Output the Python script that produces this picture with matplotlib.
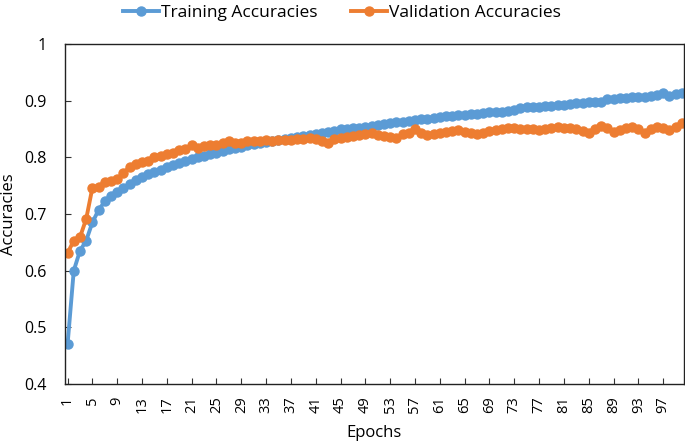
import matplotlib.pyplot as plt

# Epoch numbers and accuracies
epochs = list(range(1, 101))

train_acc = [0.470, 0.600, 0.635, 0.653, 0.685, 0.707, 0.722, 0.732, 0.739, 0.745,
             0.752, 0.760, 0.765, 0.770, 0.774, 0.778, 0.782, 0.786, 0.790, 0.793,
             0.797, 0.800, 0.803, 0.806, 0.808, 0.811, 0.814, 0.816, 0.818, 0.821,
             0.823, 0.825, 0.827, 0.829, 0.830, 0.832, 0.834, 0.836, 0.838, 0.840,
             0.841, 0.843, 0.845, 0.846, 0.849, 0.850, 0.851, 0.852, 0.854, 0.855,
             0.857, 0.859, 0.860, 0.862, 0.863, 0.864, 0.866, 0.867, 0.868, 0.869,
             0.871, 0.872, 0.873, 0.874, 0.875, 0.876, 0.877, 0.878, 0.879, 0.879,
             0.880, 0.881, 0.884, 0.887, 0.888, 0.889, 0.889, 0.890, 0.891, 0.892,
             0.893, 0.894, 0.895, 0.896, 0.897, 0.897, 0.898, 0.902, 0.903, 0.904,
             0.905, 0.906, 0.907, 0.907, 0.908, 0.909, 0.913, 0.908, 0.911, 0.913]

val_acc = [0.631, 0.653, 0.659, 0.691, 0.746, 0.748, 0.757, 0.759, 0.761, 0.772,
           0.783, 0.789, 0.792, 0.794, 0.801, 0.803, 0.806, 0.808, 0.812, 0.815,
           0.821, 0.816, 0.819, 0.821, 0.822, 0.826, 0.829, 0.825, 0.826, 0.828,
           0.829, 0.829, 0.830, 0.829, 0.831, 0.830, 0.831, 0.832, 0.833, 0.834,
           0.833, 0.829, 0.826, 0.833, 0.834, 0.835, 0.838, 0.839, 0.841, 0.842,
           0.839, 0.838, 0.836, 0.834, 0.841, 0.843, 0.850, 0.843, 0.839, 0.841,
           0.842, 0.844, 0.846, 0.848, 0.845, 0.843, 0.841, 0.843, 0.846, 0.848,
           0.849, 0.851, 0.851, 0.849, 0.850, 0.849, 0.848, 0.850, 0.852, 0.854,
           0.852, 0.851, 0.849, 0.846, 0.842, 0.850, 0.855, 0.851, 0.845, 0.848,
           0.852, 0.854, 0.850, 0.842, 0.849, 0.854, 0.851, 0.848, 0.853, 0.860]

x_ticks = list(range(1, 101, 4))
y_ticks = [0.4, 0.5, 0.6, 0.7, 0.8, 0.9, 1.0]
y_labels = ["0.4", "0.5", "0.6", "0.7", "0.8", "0.9", "1"]

plt.rcParams['font.family'] = ['Open Sans', 'DejaVu Sans']

fig = plt.figure(figsize=(6.85, 4.43), dpi=100)
ax = fig.add_axes([0.095, 0.133, 0.903, 0.768])

ax.plot(epochs, train_acc, color="#5B9BD5", linewidth=2.8, marker="o",
        markersize=6.5, label="Training Accuracies")
ax.plot(epochs, val_acc, color="#ED7D31", linewidth=2.8, marker="o",
        markersize=6.5, label="Validation Accuracies")

ax.set_xlim(0.6, 100.3)
ax.set_ylim(0.4, 1.0)

ax.set_xticks(x_ticks)
ax.set_xticklabels([str(t) for t in x_ticks], rotation=90, fontsize=10.5)
ax.set_yticks(y_ticks)
ax.set_yticklabels(y_labels, fontsize=11.5)
ax.tick_params(direction="in", length=4, width=0.8, color="#333333")
ax.tick_params(axis="y", pad=13)
ax.tick_params(axis="x", pad=9)

for side in ax.spines.values():
    side.set_linewidth(1.0)
    side.set_color("#222222")

ax.set_xlabel("Epochs", fontsize=12, labelpad=8)
ax.set_ylabel("Accuracies", fontsize=12)
ax.yaxis.set_label_coords(-0.078, 0.5)

fig.legend(loc="upper center", bbox_to_anchor=(0.499, 1.025), ncol=2, frameon=False,
           fontsize=12.5, handlelength=2.1, handletextpad=0.1, columnspacing=1.9)

plt.savefig("out.png")
